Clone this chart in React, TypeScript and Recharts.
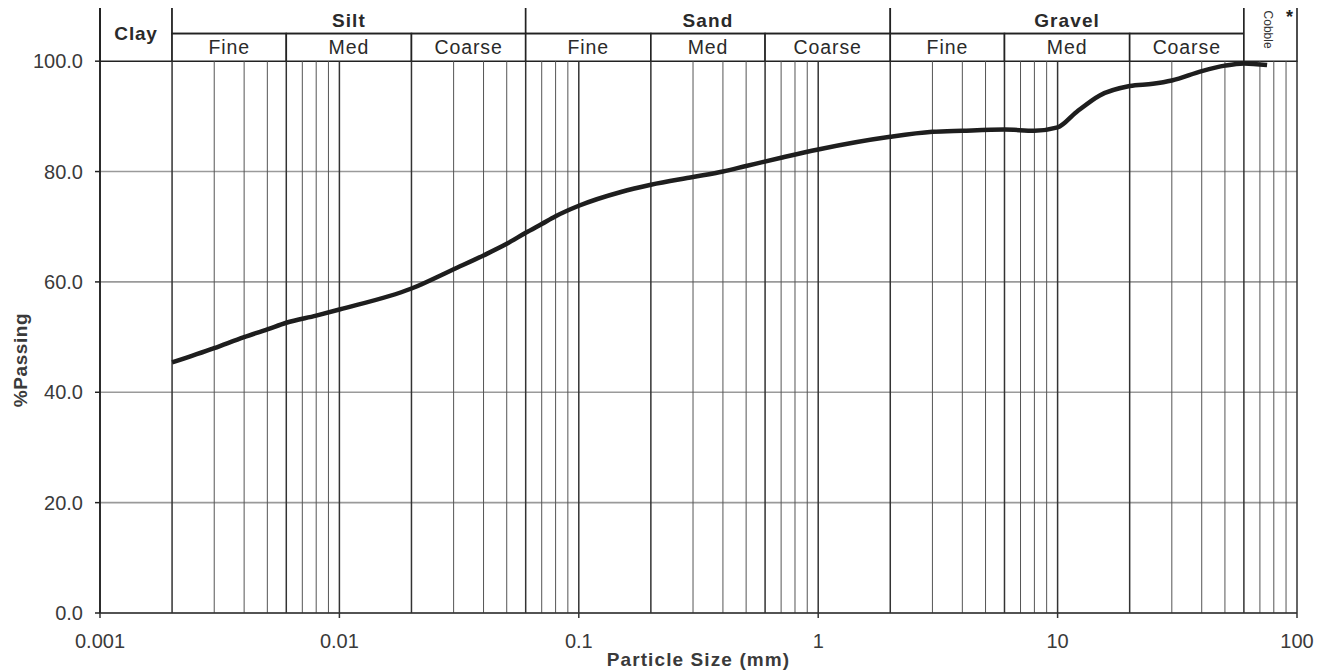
import React from 'react';
import {
  LineChart,
  Line,
  XAxis,
  YAxis,
  CartesianGrid,
  ReferenceLine,
  ReferenceArea,
  Label,
} from 'recharts';

// Particle sizes (mm) and % passing
const sizes = [
  0.002, 0.003, 0.004, 0.005, 0.006, 0.008, 0.01, 0.02, 0.03, 0.04, 0.05, 0.06,
  0.07, 0.08, 0.1, 0.15, 0.2, 0.3, 0.4, 0.5, 0.7, 1, 2, 3, 4, 6, 8, 10, 12, 15,
  20, 25, 30, 40, 50, 60, 75,
];
const passing = [
  45.4, 48.0, 50.0, 51.4, 52.6, 53.9, 55.0, 58.8, 62.3, 64.8, 66.9, 68.9, 70.5,
  71.9, 73.8, 76.3, 77.6, 79.0, 80.0, 81.0, 82.5, 84.0, 86.3, 87.2, 87.4, 87.6,
  87.4, 88.0, 90.8, 93.8, 95.5, 95.9, 96.5, 98.2, 99.2, 99.6, 99.3,
];

const xTicks = [0.001, 0.01, 0.1, 1, 10, 100];
const yTicks = [0, 20, 40, 60, 80, 100];
const decades = [0.001, 0.01, 0.1, 1, 10];
const multipliers = [1, 2, 3, 4, 5, 6, 7, 8, 9];
const boundaries = [0.002, 0.006, 0.02, 0.06, 0.2, 0.6, 2, 6, 20, 60];

const majorNames = ['Silt', 'Sand', 'Gravel'];
const majorFrom = [0.002, 0.06, 2];
const majorTo = [0.06, 2, 60];

const subNames = ['Fine', 'Med', 'Coarse', 'Fine', 'Med', 'Coarse', 'Fine', 'Med', 'Coarse'];
const subFrom = [0.002, 0.006, 0.02, 0.06, 0.2, 0.6, 2, 6, 20];
const subTo = [0.006, 0.02, 0.06, 0.2, 0.6, 2, 6, 20, 60];

const data = sizes.map((s, i) => ({ size: s, passing: passing[i] }));

const gridSizes: number[] = [];
decades.forEach((d) =>
  multipliers.forEach((m) => {
    const v = +(d * m).toPrecision(3);
    if (v > 0.001) gridSizes.push(v);
  })
);
gridSizes.push(100);

const FONT = '"Liberation Sans", Arial, sans-serif';
const HEADER_TOP = 110;
const HEADER_MID = 105;
const HEADER_BOTTOM = 100;

export default function App() {
  return (
    <div
      style={{
        margin: '-8px 0 0 -8px',
        width: 1326,
        height: 670,
        background: '#fff',
        fontFamily: FONT,
      }}
    >
      <LineChart
        width={1326}
        height={670}
        data={data}
        margin={{ top: 6, right: 29, bottom: 0, left: 40 }}
      >
        <CartesianGrid
          vertical={false}
          stroke="#9a9a9a"
          strokeWidth={1.6}
          horizontalValues={yTicks}
        />
        {gridSizes.map((g) => (
          <ReferenceLine
            key={'g' + g}
            segment={[
              { x: g, y: 0 },
              { x: g, y: HEADER_BOTTOM },
            ]}
            stroke={boundaries.includes(g) || xTicks.includes(g) ? '#333' : '#555'}
            strokeWidth={boundaries.includes(g) || xTicks.includes(g) ? 1.5 : 1}
          />
        ))}
        <XAxis
          dataKey="size"
          type="number"
          scale="log"
          domain={[0.001, 100]}
          ticks={xTicks}
          allowDataOverflow
          height={57}
          tickSize={5}
          tickMargin={16}
          stroke="#333"
          strokeWidth={1.5}
          tick={{ fill: '#3a3a3a', fontSize: 20, fontFamily: FONT }}
          tickFormatter={(v: number) => String(v)}
        >
          <Label
            content={(props: any) => {
              const vb = props.viewBox || {};
              const cx = (vb.x || 0) + (vb.width || 0) / 2;
              const y = (vb.y || 0) + 53;
              return (
                <text
                  x={cx}
                  y={y}
                  textAnchor="middle"
                  fontSize={19}
                  fontWeight="bold"
                  letterSpacing={1.1}
                  fill="#3a3a3a"
                  fontFamily={FONT}
                >
                  Particle Size (mm)
                </text>
              );
            }}
          />
        </XAxis>
        <YAxis
          type="number"
          domain={[0, HEADER_TOP]}
          ticks={yTicks}
          allowDataOverflow
          width={60}
          tickSize={5}
          tickMargin={12}
          stroke="#222"
          strokeWidth={1.5}
          tick={{ fill: '#3a3a3a', fontSize: 20, fontFamily: FONT }}
          tickFormatter={(v: number) => v.toFixed(1)}
        >
          <Label
            content={() => (
              <text
                x={20}
                y={360}
                transform="rotate(-90 20 360)"
                textAnchor="middle"
                dominantBaseline="central"
                fontSize={19}
                fontWeight="bold"
                letterSpacing={0.6}
                fill="#3a3a3a"
                fontFamily={FONT}
              >
                %Passing
              </text>
            )}
          />
        </YAxis>

        {/* Header: Clay */}
        <ReferenceArea
          x1={0.001}
          x2={0.002}
          y1={HEADER_BOTTOM}
          y2={HEADER_TOP}
          fill="#fff"
          fillOpacity={1}
          stroke="#222"
          strokeWidth={1.6}
          label={{ value: 'Clay', position: 'center', fontSize: 19, fontWeight: 'bold', letterSpacing: 0.8, fill: '#2a2a2a', fontFamily: FONT }}
        />
        {majorNames.map((n, i) => (
          <ReferenceArea
            key={'m' + n}
            x1={majorFrom[i]}
            x2={majorTo[i]}
            y1={HEADER_MID}
            y2={HEADER_TOP}
            fill="#fff"
            fillOpacity={1}
            stroke="#222"
            strokeWidth={1.6}
            label={{ value: n, position: 'center', fontSize: 19, fontWeight: 'bold', letterSpacing: 1.1, fill: '#2a2a2a', fontFamily: FONT }}
          />
        ))}
        {subNames.map((n, i) => (
          <ReferenceArea
            key={'s' + i}
            x1={subFrom[i]}
            x2={subTo[i]}
            y1={HEADER_BOTTOM}
            y2={HEADER_MID}
            fill="#fff"
            fillOpacity={1}
            stroke="#222"
            strokeWidth={1.6}
            label={{ value: n, position: 'center', fontSize: 19.5, letterSpacing: 0.9, fill: '#2a2a2a', fontFamily: FONT }}
          />
        ))}
        {/* Cobble */}
        <ReferenceArea
          x1={60}
          x2={100}
          y1={HEADER_BOTTOM}
          y2={HEADER_TOP}
          fill="#fff"
          fillOpacity={1}
          stroke="#222"
          strokeWidth={1.6}
        >
          <Label value="Cobble" position="center" angle={90} fontSize={12} fill="#333" fontFamily={FONT} dx={-2} dy={-4} />
          <Label value="*" position="insideTopRight" fontSize={18} fontWeight="bold" fill="#222" fontFamily={FONT} offset={4} />
        </ReferenceArea>
        <ReferenceLine
          segment={[
            { x: 0.001, y: 0 },
            { x: 0.001, y: HEADER_TOP },
          ]}
          stroke="#222"
          strokeWidth={1.6}
        />

        <Line
          type="monotone"
          dataKey="passing"
          stroke="#1e1e1e"
          strokeWidth={4.5}
          dot={false}
          isAnimationActive={false}
        />
      </LineChart>
    </div>
  );
}
